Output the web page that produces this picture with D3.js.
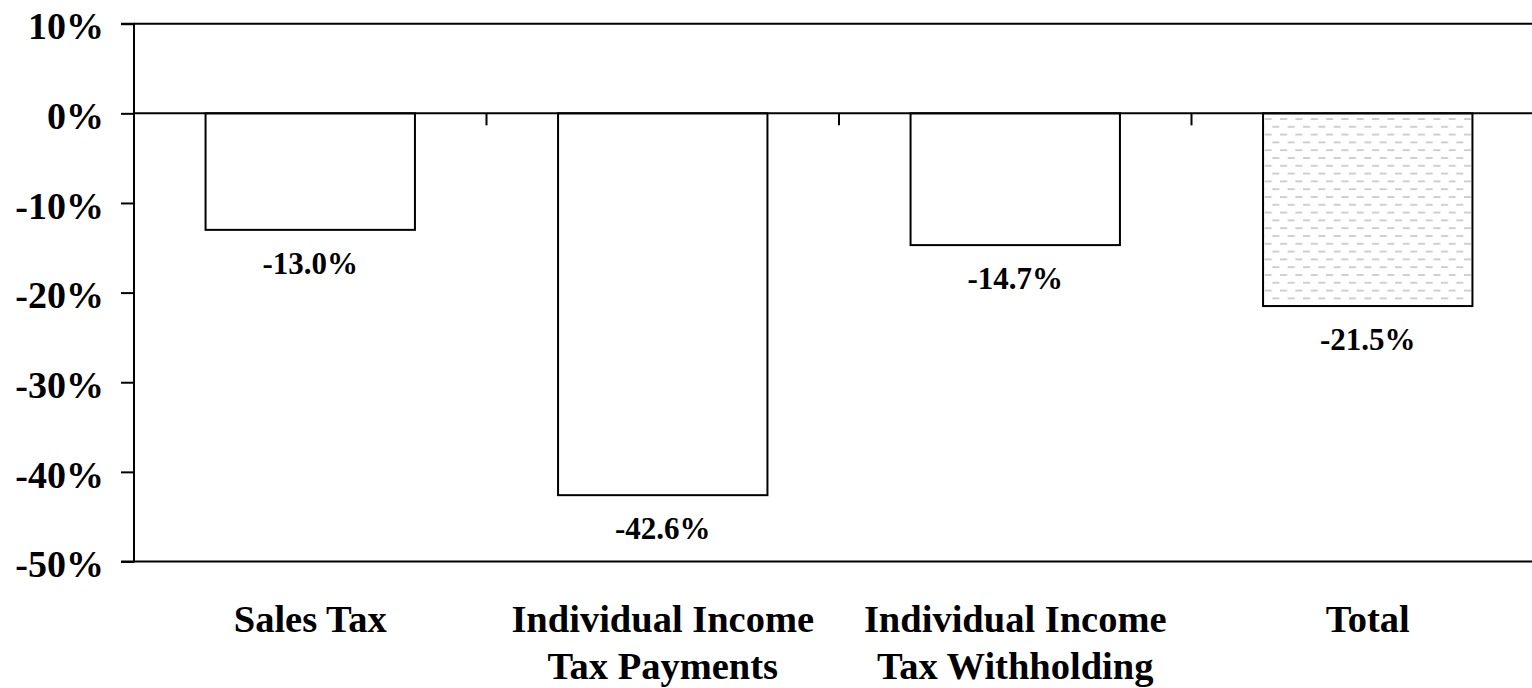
<!DOCTYPE html>
<html>
<head>
<meta charset="utf-8">
<script src="https://cdn.jsdelivr.net/npm/d3@7"></script>
<style>
  html, body { margin: 0; padding: 0; background: #fff; }
  svg { display: block; font-family: "Liberation Serif", "Times New Roman", serif; font-weight: bold; }
</style>
</head>
<body>
<svg id="chart"></svg>
<script>
let categories = [["Sales Tax"], ["Individual Income", "Tax Payments"], ["Individual Income", "Tax Withholding"], ["Total"]];
let values = [-13.0, -42.6, -14.7, -21.5];
let patterned = [false, false, false, true];
let yTicks = [10, 0, -10, -20, -30, -40, -50];

let w = 1532;
let h = 688;

let svg = d3.select("#chart")
    .attr("width", w)
    .attr("height", h);

// dashed fill for the total bar
let defs = svg.append("defs");
let pat = defs.append("pattern")
    .attr("id", "dash")
    .attr("patternUnits", "userSpaceOnUse")
    .attr("width", 15.33)
    .attr("height", 15.6);
pat.append("rect").attr("width", 15.33).attr("height", 15.6).attr("fill", "#fff");
pat.append("line").attr("x1", 0).attr("x2", 7).attr("y1", 2).attr("y2", 2)
    .attr("stroke", "#c4c4c4").attr("stroke-width", 1.6);
pat.append("line").attr("x1", 7.7).attr("x2", 14.7).attr("y1", 9.8).attr("y2", 9.8)
    .attr("stroke", "#c4c4c4").attr("stroke-width", 1.6);

let left = 134;
let step = 352.5;

let xScale = d3.scaleBand()
    .domain(d3.range(categories.length))
    .range([left, left + step * categories.length])
    .paddingInner(0.406)
    .paddingOuter(0.203);

let yScale = d3.scaleLinear()
    .domain([-50, 10])
    .range([561.5, 23.7]);

// y axis
let yAxis = d3.axisLeft(yScale)
    .tickValues(yTicks)
    .tickSize(13)
    .tickPadding(17)
    .tickFormat(d => d + "%");
let yAxisGroup = svg.append("g")
    .attr("transform", `translate(${left},0)`)
    .call(yAxis);
yAxisGroup.selectAll("path, line").attr("stroke", "#000").attr("stroke-width", 2);
yAxisGroup.select(".domain").attr("d", `M-13,${yScale(10)}H0V${yScale(-50)}H-13`);
yAxisGroup.selectAll("text")
    .attr("font-size", 38)
    .attr("font-family", "Liberation Serif, Times New Roman, serif")
    .attr("font-weight", "bold")
    .attr("fill", "#000")
    .attr("dy", "0.4em");

// frame lines at top and bottom of the plot
svg.append("g")
    .selectAll("line")
    .data([10, -50])
    .join("line")
    .attr("x1", left)
    .attr("x2", w)
    .attr("y1", d => yScale(d))
    .attr("y2", d => yScale(d))
    .attr("stroke", "#000")
    .attr("stroke-width", 2);

// bars
svg.append("g")
    .selectAll("rect")
    .data(values)
    .join("rect")
    .attr("x", (d, i) => xScale(i))
    .attr("width", xScale.bandwidth())
    .attr("y", d => yScale(Math.max(0, d)))
    .attr("height", d => Math.abs(yScale(d) - yScale(0)))
    .attr("fill", (d, i) => patterned[i] ? "url(#dash)" : "#fff")
    .attr("stroke", "#000")
    .attr("stroke-width", 2);

// zero line with category separators
svg.append("line")
    .attr("x1", left)
    .attr("x2", w)
    .attr("y1", yScale(0))
    .attr("y2", yScale(0))
    .attr("stroke", "#000")
    .attr("stroke-width", 2);

svg.append("g")
    .selectAll("line")
    .data(d3.range(1, categories.length))
    .join("line")
    .attr("x1", i => left + i * xScale.step())
    .attr("x2", i => left + i * xScale.step())
    .attr("y1", yScale(0))
    .attr("y2", yScale(0) + 12)
    .attr("stroke", "#000")
    .attr("stroke-width", 2);

// value labels
svg.append("g")
    .selectAll("text")
    .data(values)
    .join("text")
    .attr("x", (d, i) => xScale(i) + xScale.bandwidth() / 2)
    .attr("y", d => yScale(d) + 44)
    .attr("text-anchor", "middle")
    .attr("font-size", 31)
    .text(d => d.toFixed(1) + "%");

// category labels
let cat = svg.append("g")
    .selectAll("text")
    .data(categories)
    .join("text")
    .attr("x", (d, i) => xScale(i) + xScale.bandwidth() / 2)
    .attr("y", 632)
    .attr("text-anchor", "middle")
    .attr("font-size", 38.5);
cat.selectAll("tspan")
    .data(d => d)
    .join("tspan")
    .attr("x", function() { return this.parentNode.getAttribute("x"); })
    .attr("dy", (d, j) => j === 0 ? 0 : 47)
    .text(d => d);
</script>
</body>
</html>
